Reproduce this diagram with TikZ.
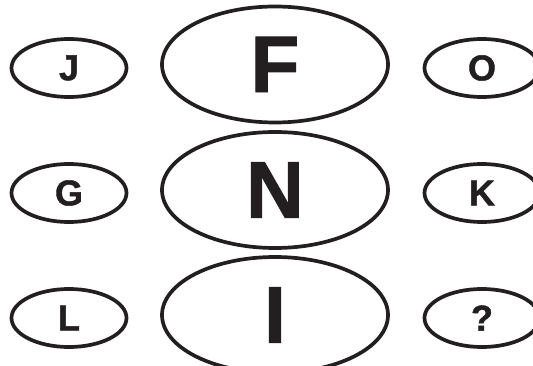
\documentclass[tikz,border=0pt]{standalone}
\usepackage{fontspec}
\newfontfamily\letterfont{Liberation Sans}[BoldFeatures={FakeBold=1.2}]
\usetikzlibrary{shapes.geometric}
\definecolor{inkblack}{RGB}{35,31,32}

\begin{document}
\begin{tikzpicture}[x=1pt, y=-1pt]
\tikzset{
    smallell/.style={ellipse, draw=inkblack, line width=3.7pt, minimum width=115pt, minimum height=58pt, inner sep=0pt,
        text=inkblack, font=\letterfont\bfseries\fontsize{36}{36}\selectfont},
    bigell/.style={ellipse, draw=inkblack, line width=3.7pt, minimum width=226pt, minimum height=116pt, inner sep=0pt,
        text=inkblack, font=\letterfont\bfseries\fontsize{80}{80}\selectfont}
}
\useasboundingbox (0,0) rectangle (533,366);
\clip (0,0) rectangle (533,366);

% Row 1
\node[smallell] (ellJ) at (69,68) {J};
\node[bigell]   (ellF) at (275,64.5) {F};
\node[smallell] (ellO) at (482,68) {O};

% Row 2
\node[smallell] (ellG) at (69,193) {G};
\node[bigell]   (ellN) at (275,190) {N};
\node[smallell] (ellK) at (482,193) {K};

% Row 3
\node[smallell] (ellL) at (69,318) {L};
\node[bigell]   (ellI) at (275,315) {I};
\node[smallell] (ellQ) at (482,318) {?};

\end{tikzpicture}
\end{document}
